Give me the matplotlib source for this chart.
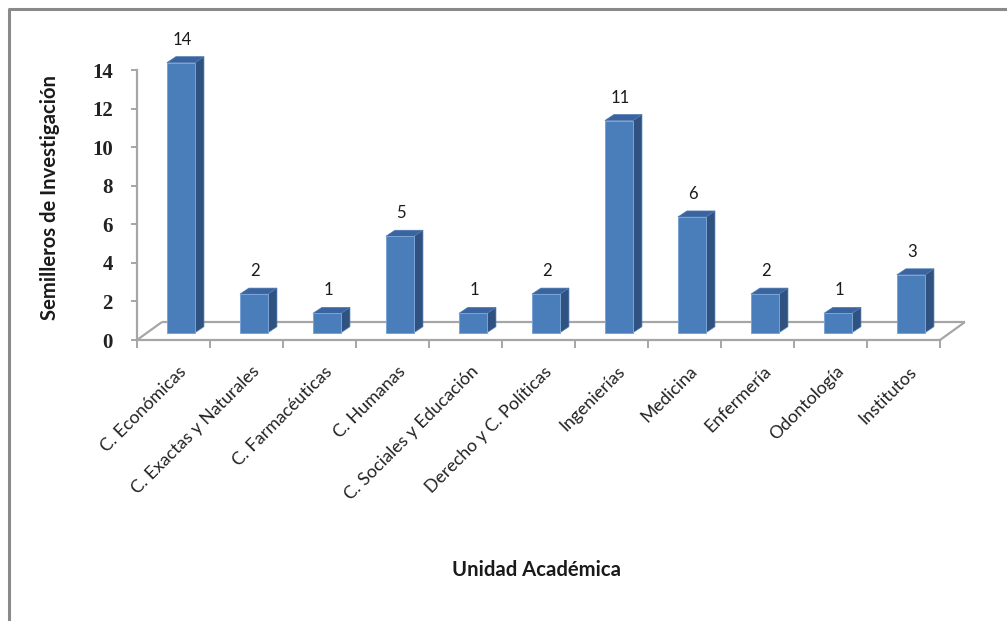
import matplotlib
matplotlib.use("Agg")
import matplotlib.pyplot as plt
from matplotlib.patches import Polygon, Rectangle
from matplotlib.lines import Line2D
from matplotlib.transforms import ScaledTranslation

categories = ["C. Económicas", "C. Exactas y Naturales", "C. Farmacéuticas",
              "C. Humanas", "C. Sociales y Educación", "Derecho y C. Políticas",
              "Ingenierías", "Medicina", "Enfermería", "Odontología", "Institutos"]
values = [14, 2, 1, 5, 1, 2, 11, 6, 2, 1, 3]
yticks = [0, 2, 4, 6, 8, 10, 12, 14]
ylabel = "Semilleros de Investigación"
xlabel = "Unidad Académica"

W, H = 1007, 621
fig = plt.figure(figsize=(W / 100, H / 100), dpi=100)
fig.patch.set_facecolor("white")

# outer border (left and top only visible)
fig.add_artist(Line2D([9 / W, 9 / W, 1.0], [0.0, 1 - 9 / H, 1 - 9 / H],
                      transform=fig.transFigure, color="#8a8a8a", lw=2.2))

ax = fig.add_axes([137 / W, 1 - 340 / H, 803 / W, 270 / H])
n = len(categories)
ax.set_xlim(0, n)
ax.set_ylim(0, 14)
ax.set_facecolor("none")
for s in ["top", "right"]:
    ax.spines[s].set_visible(False)
for s in ["left", "bottom"]:
    ax.spines[s].set_color("#a6a6a6")
    ax.spines[s].set_linewidth(1.6)

grey = "#a6a6a6"
ax.set_yticks(yticks)
ax.set_yticklabels([str(t) for t in yticks], family="Liberation Serif",
                   fontweight="bold", fontsize=15, color="#222222")
ax.tick_params(axis="y", direction="out", length=4.3, width=1.4, color=grey, pad=13)

ax.set_xticks([i + 0.5 for i in range(n)])
ax.set_xticklabels(categories, rotation=45, ha="right", rotation_mode="anchor",
                   family="Lato", fontsize=12.8, color="#222222")
ax.tick_params(axis="x", which="major", length=0, pad=16)
shift = ScaledTranslation(5 / 100, -1 / 100, fig.dpi_scale_trans)
for lab in ax.get_xticklabels():
    lab.set_transform(lab.get_transform() + shift)
ax.set_xticks(list(range(n + 1)), minor=True)
ax.tick_params(axis="x", which="minor", direction="out", length=5.8, width=1.4, color=grey)

# 3D floor
fdx, fdy = 0.342, 0.933
floor_kw = dict(color=grey, lw=1.6, clip_on=False, zorder=1, solid_capstyle="butt")
ax.plot([0, fdx], [0, fdy], **floor_kw)
ax.plot([fdx, n + fdx], [fdy, fdy], **floor_kw)
ax.plot([n, n + fdx], [0, fdy], **floor_kw)

# 3D bars
front_c, side_c, top_c = "#4a7ebb", "#2f5281", "#3a64a0"
bw, bdx, bdy, off_x, off_y = 0.384, 0.123, 0.311, 0.41, 0.38
for i, v in enumerate(values):
    x0 = i + off_x
    y0 = off_y
    ax.add_patch(Polygon([(x0 + bw, y0), (x0 + bw + bdx, y0 + bdy),
                          (x0 + bw + bdx, y0 + v + bdy), (x0 + bw, y0 + v)],
                         closed=True, facecolor=side_c, edgecolor="#4d79b0",
                         lw=0.5, clip_on=False, zorder=3))
    ax.add_patch(Polygon([(x0, y0 + v), (x0 + bdx, y0 + v + bdy),
                          (x0 + bw + bdx, y0 + v + bdy), (x0 + bw, y0 + v)],
                         closed=True, facecolor=top_c, edgecolor="#4d79b0",
                         lw=0.5, clip_on=False, zorder=3))
    ax.add_patch(Rectangle((x0, y0), bw, v, facecolor=front_c,
                           edgecolor="#7aa3d6", lw=0.7, clip_on=False, zorder=4))
    ax.text(x0 + bw / 2 + 0.02, v + y0 + bdy + 0.88, str(v), ha="center", va="center",
            family="Lato", fontsize=12, color="#1a1a1a", clip_on=False)

fig.text(50 / W, 1 - 197 / H, ylabel, rotation=90, ha="center", va="center",
         family="Lato", fontweight="bold", fontsize=14.6, color="#1a1a1a")
fig.text(537 / W, 1 - 570 / H, xlabel, ha="center", va="center",
         family="Lato", fontweight="bold", fontsize=14.6, color="#1a1a1a")

fig.savefig("out.png", dpi=100, facecolor="white")
